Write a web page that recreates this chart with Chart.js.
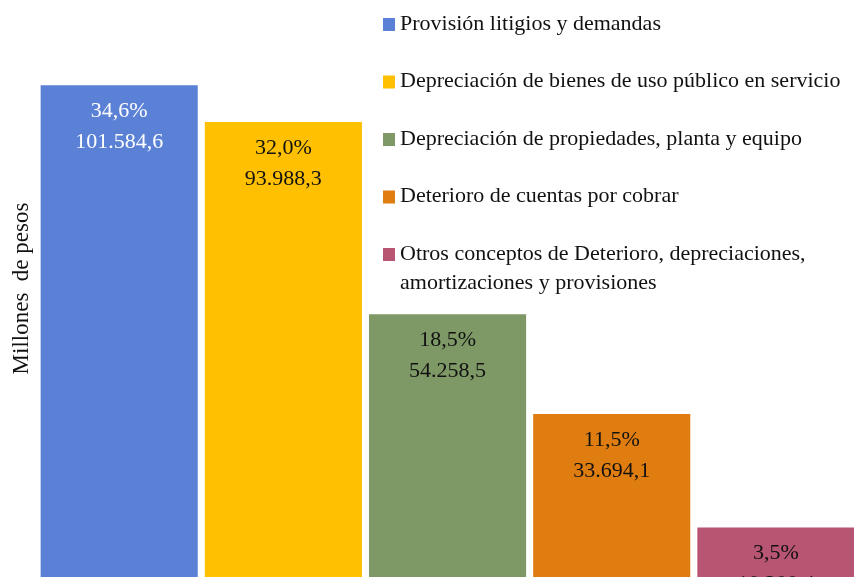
<!DOCTYPE html>
<html>
<head>
<meta charset="utf-8">
<script src="https://cdn.jsdelivr.net/npm/chart.js@4"></script>
<style>
  html, body { margin: 0; padding: 0; overflow: hidden; background: #fff; }
  canvas { display: block; }
</style>
</head>
<body>
<canvas id="js-bar-chart" width="860" height="577"></canvas>
<script>
var categories = [
  "Provisión litigios y demandas",
  "Depreciación de bienes de uso público en servicio",
  "Depreciación de propiedades, planta y equipo",
  "Deterioro de cuentas por cobrar",
  ["Otros conceptos de Deterioro, depreciaciones,", "amortizaciones y provisiones"]
]
var values = [101584.6, 93988.3, 54258.5, 33694.1, 10200.4]
var shares = [34.6, 32.0, 18.5, 11.5, 3.5]
var yTitle = "Millones  de pesos"

var colors = ["#5A81D6", "#FEC000", "#7E9866", "#DF7D10", "#B75573"]
var textColors = ["#ffffff", "#111111", "#111111", "#111111", "#111111"]
var serif = "'Liberation Serif', 'Times New Roman', serif"

function fmtEs(v, dec) {
  var parts = v.toFixed(dec).split(".")
  var ent = parts[0].replace(/\B(?=(\d{3})+(?!\d))/g, ".")
  return parts.length > 1 ? ent + "," + parts[1] : ent
}

// etiquetas dentro de las barras
var barLabels = {
  id: "barLabels",
  afterDatasetsDraw: function (chart) {
    var c = chart.ctx
    var meta = chart.getDatasetMeta(0)
    c.save()
    c.font = "22px " + serif
    c.textAlign = "center"
    c.textBaseline = "middle"
    meta.data.forEach(function (bar, i) {
      c.fillStyle = textColors[i]
      c.fillText(fmtEs(shares[i], 1) + "%", bar.x, bar.y + 26)
      c.fillText(fmtEs(values[i], 1), bar.x, bar.y + 57)
    })
    c.restore()
  }
}

// leyenda dibujada a mano arriba a la derecha
var sideLegend = {
  id: "sideLegend",
  afterDraw: function (chart) {
    var c = chart.ctx
    c.save()
    c.font = "22px " + serif
    c.textAlign = "left"
    c.textBaseline = "middle"
    categories.forEach(function (lab, i) {
      var y = 24 + i * 57.5
      c.fillStyle = colors[i]
      c.fillRect(383, y - 6, 12, 13)
      c.fillStyle = "#111111"
      var lines = Array.isArray(lab) ? lab : [lab]
      lines.forEach(function (ln, k) {
        c.fillText(ln, 400, y + k * 29)
      })
    })
    c.restore()
  }
}

var ctx = document.getElementById("js-bar-chart")

var chart = new Chart(ctx,
  {
    type: "bar",
    data: {
      labels: categories,
      datasets: [{
        data: values,
        backgroundColor: colors,
        borderWidth: 0,
        barPercentage: 0.957,
        categoryPercentage: 1
      }]
    },
    options: {
      responsive: false,
      animation: false,
      layout: {
        padding: { left: 0, right: 2, top: 0, bottom: 0 }
      },
      plugins: {
        legend: { display: false },
        tooltip: { enabled: false }
      },
      scales: {
        x: {
          display: false
        },
        y: {
          min: 0,
          max: 119200,
          ticks: { display: false },
          grid: { display: false },
          border: { display: false },
          title: {
            display: true,
            text: yTitle,
            color: "#111111",
            font: { family: serif, size: 23 },
            padding: { top: 8, bottom: -6.5 }
          }
        }
      }
    },
    plugins: [barLabels, sideLegend]
  })
</script>
</body>
</html>
